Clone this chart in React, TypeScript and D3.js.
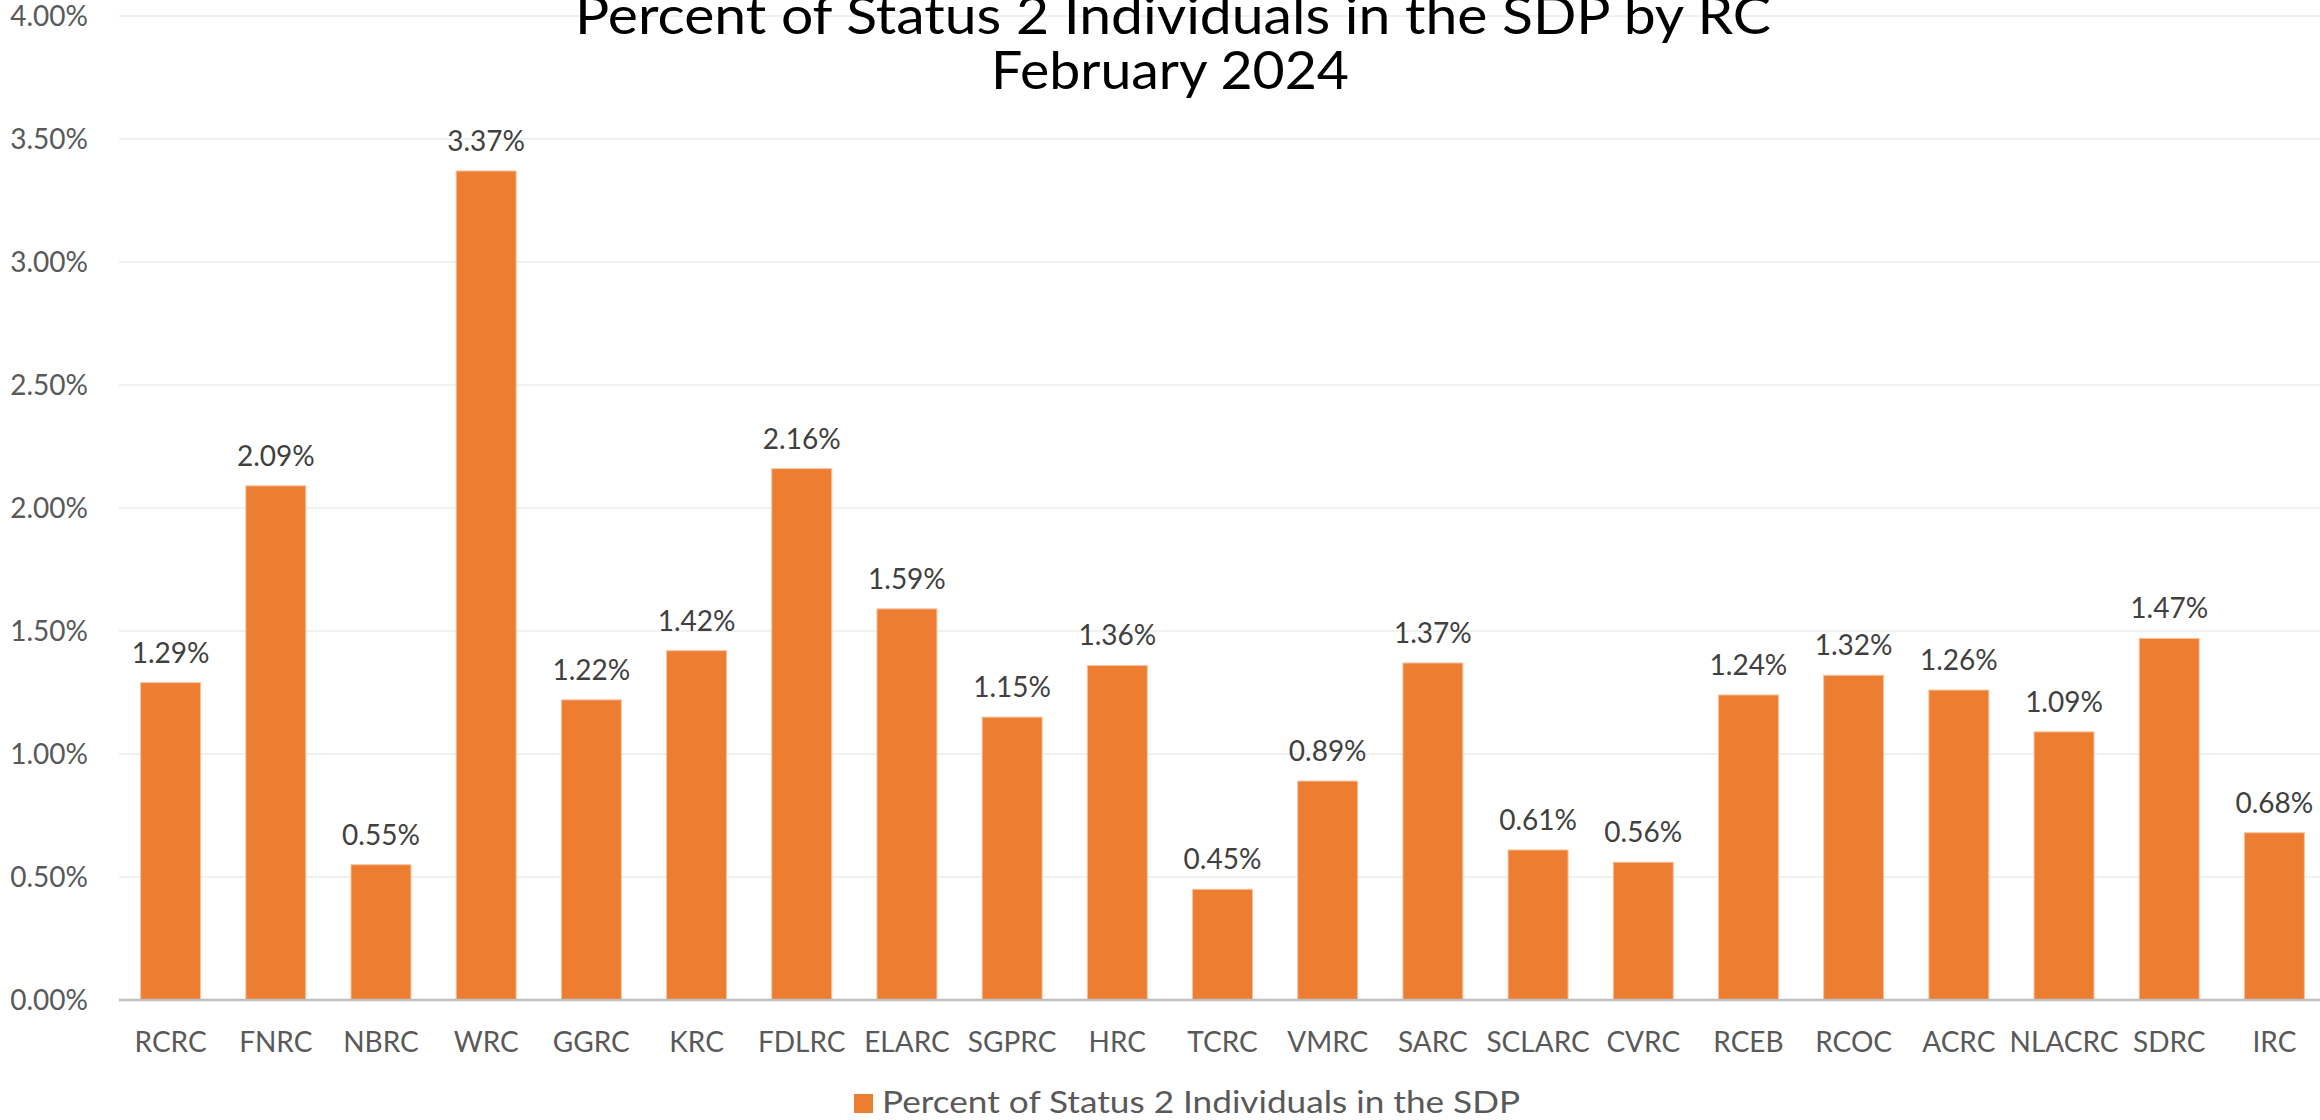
import React, { useEffect, useRef } from "react";
import * as d3 from "d3";

const centers = ["RCRC", "FNRC", "NBRC", "WRC", "GGRC", "KRC", "FDLRC", "ELARC", "SGPRC", "HRC", "TCRC",
    "VMRC", "SARC", "SCLARC", "CVRC", "RCEB", "RCOC", "ACRC", "NLACRC", "SDRC", "IRC"];
const percents = [1.29, 2.09, 0.55, 3.37, 1.22, 1.42, 2.16, 1.59, 1.15, 1.36, 0.45,
    0.89, 1.37, 0.61, 0.56, 1.24, 1.32, 1.26, 1.09, 1.47, 0.68];
const yTicks = [0, 0.5, 1, 1.5, 2, 2.5, 3, 3.5, 4];
const titleLines = ["Percent of Status 2 Individuals in the SDP by RC", "February 2024"];
const seriesName = "Percent of Status 2 Individuals in the SDP";

const W = 2320, H = 1120;
const orange = "#ED7D31";

function App() {
    const chart = useRef<SVGSVGElement>(null);

    useEffect(() => {
        const svg = d3.select(chart.current);
        svg.selectAll("*").remove();

        const x = d3.scaleBand<string>().domain(centers).range([118, 2327]).paddingInner(0.43).paddingOuter(0.215);
        const y = d3.scaleLinear().domain([0, 4]).range([1000, 16]);

        // gridlines
        svg.append("g")
            .selectAll("line")
            .data(yTicks.filter(t => t > 0))
            .join("line")
                .attr("x1", 119).attr("x2", W)
                .attr("y1", d => y(d)).attr("y2", d => y(d))
                .attr("stroke", "#EDEDED")
                .attr("stroke-width", 1.5);

        // y labels
        svg.append("g")
            .selectAll("text")
            .data(yTicks)
            .join("text")
                .attr("x", 88)
                .attr("y", d => y(d))
                .attr("dy", "0.35em")
                .attr("text-anchor", "end")
                .attr("font-family", "Lato, sans-serif")
                .attr("font-size", 28)
                .attr("fill", "#595959")
                .text(d => d.toFixed(2) + "%");

        // bars
        svg.append("g")
            .selectAll("rect")
            .data(percents)
            .join("rect")
                .attr("x", (d, i) => x(centers[i])!)
                .attr("width", x.bandwidth())
                .attr("y", d => y(d))
                .attr("height", d => y(0) - y(d))
                .attr("fill", orange)
                .attr("stroke", "#F6C3A0")
                .attr("stroke-width", 1);

        // axis line
        svg.append("line")
            .attr("x1", 119).attr("x2", W)
            .attr("y1", y(0)).attr("y2", y(0))
            .attr("stroke", "#BFBFBF")
            .attr("stroke-width", 2.5);

        // data labels
        svg.append("g")
            .selectAll("text")
            .data(percents)
            .join("text")
                .attr("x", (d, i) => x(centers[i])! + x.bandwidth() / 2)
                .attr("y", d => y(d) - 20)
                .attr("text-anchor", "middle")
                .attr("font-family", "Lato, sans-serif")
                .attr("font-size", 28)
                .attr("fill", "#404040")
                .text(d => d.toFixed(2) + "%");

        // category labels
        svg.append("g")
            .selectAll("text")
            .data(centers)
            .join("text")
                .attr("x", d => x(d)! + x.bandwidth() / 2)
                .attr("y", 1052)
                .attr("text-anchor", "middle")
                .attr("font-family", "Lato, sans-serif")
                .attr("font-size", 28)
                .attr("fill", "#595959")
                .text(d => d);

        // title
        svg.append("text")
            .attr("x", 1173).attr("y", 34)
            .attr("text-anchor", "middle")
            .attr("font-family", "Lato, sans-serif")
            .attr("font-size", 53)
            .attr("fill", "#000")
            .attr("textLength", 1196)
            .attr("lengthAdjust", "spacingAndGlyphs")
            .text(titleLines[0]);
        svg.append("text")
            .attr("x", 1170).attr("y", 89)
            .attr("text-anchor", "middle")
            .attr("font-family", "Lato, sans-serif")
            .attr("font-size", 53)
            .attr("fill", "#000")
            .attr("textLength", 358)
            .attr("lengthAdjust", "spacingAndGlyphs")
            .text(titleLines[1]);

        // legend
        svg.append("rect")
            .attr("x", 854).attr("y", 1094)
            .attr("width", 19).attr("height", 19)
            .attr("fill", orange);
        svg.append("text")
            .attr("x", 882).attr("y", 1113)
            .attr("font-family", "Lato, sans-serif")
            .attr("font-size", 30)
            .attr("fill", "#595959")
            .attr("textLength", 638)
            .attr("lengthAdjust", "spacingAndGlyphs")
            .text(seriesName);
    }, []);

    return (
        <div>
            <style>{`body{margin:0}`}</style>
            <svg ref={chart} width={W} height={H} style={{ display: "block", background: "white" }}></svg>
        </div>
    );
}

export default App;
